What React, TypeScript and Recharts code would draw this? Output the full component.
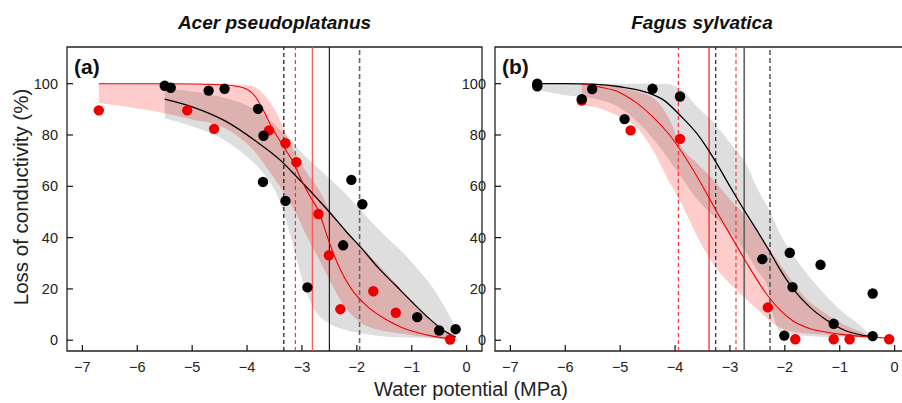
import React from 'react';
import { ComposedChart, Area, Line, Scatter, XAxis, YAxis, ReferenceLine, ReferenceArea } from 'recharts';

// ---------- Panel (a) Acer pseudoplatanus ----------
const aBlackPtX = [-5.50, -5.39, -4.70, -4.41, -3.80, -3.70, -3.71, -3.30, -2.90, -2.25, -2.10, -1.90, -0.90, -0.50, -0.20];
const aBlackPtY = [99.2, 98.4, 97.3, 98.0, 90.2, 79.7, 61.7, 54.3, 20.6, 37.0, 62.5, 53.0, 9.0, 3.8, 4.3];
const aRedPtX = [-6.70, -5.09, -4.60, -3.60, -3.30, -3.10, -2.70, -2.51, -2.30, -1.70, -1.29, -0.30];
const aRedPtY = [89.6, 89.6, 82.4, 81.8, 76.8, 69.4, 49.2, 33.1, 12.1, 19.1, 10.7, 0.3];

const aBlackLineX = [-5.5, -5.0, -4.4, -3.8, -3.4, -3.1, -2.7, -2.5, -2.2, -1.9, -1.6, -1.3, -1.0, -0.7, -0.45, -0.2];
const aBlackLineY = [94, 91, 85.5, 77, 70.3, 63.8, 54.7, 50, 42.5, 35.5, 28, 21.5, 15, 8.8, 4.3, 1.2];
const aRedLineX = [-6.7, -5.5, -5.0, -4.5, -4.2, -4.0, -3.85, -3.7, -3.55, -3.35, -3.15, -3.0, -2.85, -2.7, -2.5, -2.3, -2.1, -1.8, -1.5, -1.2, -0.9, -0.6, -0.3];
const aRedLineY = [100, 100, 99.9, 99.6, 99, 97.8, 95, 89.5, 83, 76, 69, 62, 56, 50.5, 38, 27.5, 20, 13, 8.5, 5.2, 3, 1.5, 0.5];

const aGrayX = [-5.5, -5.0, -4.5, -4.0, -3.7, -3.4, -3.2, -3.0, -2.8, -2.5, -2.2, -1.9, -1.5, -1.2, -0.9, -0.6, -0.4, -0.2];
const aGrayHi = [98, 97, 95, 91.5, 88, 82, 78, 73, 69, 63, 57, 50, 41, 35, 28, 20, 13, 5];
const aGrayLo = [86.5, 83.3, 79, 71.5, 65, 54, 40, 24, 13, 6.5, 4, 2.6, 1.5, 1.2, 1, 0.8, 0.7, 0.7];
const aPinkX = [-6.7, -6.2, -5.5, -5.0, -4.5, -4.2, -3.9, -3.7, -3.5, -3.3, -3.1, -2.9, -2.7, -2.5, -2.2, -1.9, -1.5, -1.2, -0.9, -0.6, -0.3];
const aPinkHi = [100, 100, 100, 100, 100, 99.7, 99, 96, 90, 81, 72, 65, 59, 51, 43, 36, 27, 20, 13, 6.5, 2.5];
const aPinkLo = [92.5, 91, 88.5, 86, 83.5, 80, 74.5, 69, 63, 56.5, 49, 40, 32, 23.5, 12.5, 6.5, 3.6, 2.6, 1.6, 1, 0.5];

const aVLineX = [-3.33, -3.12, -2.81, -2.50, -1.95];

// ---------- Panel (b) Fagus sylvatica ----------
const bBlackPtX = [-6.51, -6.51, -5.70, -5.51, -4.92, -4.41, -3.91, -2.41, -1.91, -1.35, -1.86, -1.11, -2.01, -0.40, -0.40];
const bBlackPtY = [100, 99, 94, 97.9, 86.2, 98, 95, 31.6, 34.1, 29.4, 20.7, 6.4, 1.8, 18.2, 1.6];
const bRedPtX = [-5.70, -4.81, -3.91, -2.31, -1.81, -1.11, -0.82, -0.10];
const bRedPtY = [93.4, 81.8, 78.5, 12.8, 0.4, 0.4, 0.4, 0.4];

const bBlackLineX = [-6.5, -6.0, -5.5, -5.0, -4.5, -4.2, -3.9, -3.6, -3.3, -3.0, -2.75, -2.5, -2.3, -2.1, -1.85, -1.55, -1.25, -0.9, -0.6, -0.4];
const bBlackLineY = [100, 100, 99.8, 98.8, 96.5, 93.5, 87.5, 80.5, 71, 60, 51, 42.5, 35.5, 28, 20, 13, 8, 3.8, 2, 1.3];
const bRedLineX = [-5.7, -5.4, -5.0, -4.7, -4.4, -4.1, -3.85, -3.55, -3.25, -2.95, -2.65, -2.35, -2.1, -1.85, -1.55, -1.25, -0.9, -0.45, -0.05];
const bRedLineY = [100, 98.8, 96.5, 92.5, 87, 80, 72.5, 62, 50.5, 39.5, 28.5, 18.5, 12, 7.5, 4.6, 3.2, 2.1, 1.3, 0.7];

const bGrayX = [-6.5, -6.0, -5.5, -5.0, -4.5, -4.2, -3.9, -3.6, -3.3, -3.0, -2.7, -2.5, -2.3, -2.2, -2.1, -1.9, -1.6, -1.3, -1.0, -0.7, -0.4];
const bGrayHi = [100, 100, 100, 100, 100, 100, 98, 91, 85, 77, 68.5, 59, 51.5, 47, 42, 35, 26, 18.5, 12, 7, 1.5];
const bGrayLo = [97.5, 95.5, 94.3, 90.5, 81, 73, 64, 55, 48.5, 42, 34, 27, 20, 9, 3.5, 2.3, 1.6, 1.3, 1.2, 1.1, 1];
const bPinkX = [-5.7, -5.4, -5.0, -4.7, -4.4, -4.1, -3.9, -3.6, -3.3, -3.0, -2.7, -2.5, -2.2, -1.9, -1.6, -1.3, -1.0, -0.7, -0.4, -0.05];
const bPinkHi = [100, 99.6, 98.5, 97, 94.5, 86, 76, 69, 62.5, 55, 48, 42, 33, 24, 16, 11, 7, 4, 1.5, 0.8];
const bPinkLo = [92, 90.5, 87, 83, 74, 61.5, 54, 40.5, 29.5, 22, 16, 12, 6.3, 3.5, 2.6, 2.1, 1.7, 1.3, 1, 0.7];

const bVLineX = [-3.94, -3.38, -3.26, -2.89, -2.74, -2.27];

const XTICKS = [-7, -6, -5, -4, -3, -2, -1, 0];
const YTICKS = [0, 20, 40, 60, 80, 100];
const XDOM: [number, number] = [-7.28, 0.28];
const YDOM: [number, number] = [-4.2, 114.3];

const FONT = '"Liberation Sans", Arial, Helvetica, sans-serif';
const RED = '#ee0000';

const pts = (xs: number[], ys: number[]) => xs.map((x, i) => ({ x, y: ys[i] }));
const band = (xs: number[], lo: number[], hi: number[]) => xs.map((x, i) => ({ x, r: [lo[i], hi[i]] }));

const fmt = (v: number) => (v < 0 ? '\u2212' + Math.abs(v) : String(v));

const XTick = (props: any) => {
  const { x, y, payload } = props;
  return (
    <g>
      <line x1={x} y1={y} x2={x} y2={y - 6} stroke="#111" strokeWidth={1.2} />
      <text x={x} y={y + 21} textAnchor="middle" fontSize={14.5} fontFamily={FONT} fill="#222">
        {fmt(payload.value)}
      </text>
    </g>
  );
};
const YTick = (props: any) => {
  const { x, y, payload } = props;
  return (
    <g>
      <line x1={x} y1={y} x2={x + 6} y2={y} stroke="#111" strokeWidth={1.2} />
      <text x={x - 9} y={y + 5} textAnchor="end" fontSize={14.5} fontFamily={FONT} fill="#222">
        {fmt(payload.value)}
      </text>
    </g>
  );
};

type VStyle = { stroke: string; dash?: string; w: number };

function Panel(props: {
  left: number;
  gray: any[];
  pink: any[];
  blackLine: any[];
  redLine: any[];
  blackPts: any[];
  redPts: any[];
  vx: number[];
  vs: VStyle[];
}) {
  const dot = (color: string) => (p: any) => <circle cx={p.cx} cy={p.cy} r={5.2} fill={color} />;
  return (
    <div style={{ position: 'absolute', left: props.left, top: 0 }}>
      <ComposedChart width={490} height={403} margin={{ top: 47, right: 8, bottom: 22, left: 7 }}>
        <XAxis
          type="number"
          dataKey="x"
          domain={XDOM}
          ticks={XTICKS}
          interval={0}
          tickSize={0}
          tickMargin={0}
          axisLine={false}
          tickLine={false}
          tick={XTick}
          height={30}
          allowDataOverflow
        />
        <YAxis
          type="number"
          domain={YDOM}
          ticks={YTICKS}
          interval={0}
          tickSize={0}
          tickMargin={0}
          axisLine={false}
          tickLine={false}
          tick={YTick}
          width={60}
          allowDataOverflow
        />
        <Area data={props.pink} dataKey="r" type="monotone" stroke="none" fill="#ff0000" fillOpacity={0.2} isAnimationActive={false} />
        <Area data={props.gray} dataKey="r" type="monotone" stroke="none" fill="#000000" fillOpacity={0.13} isAnimationActive={false} />
        {props.vx.map((x, i) => (
          <ReferenceLine
            key={i}
            x={x}
            stroke={props.vs[i].stroke}
            strokeWidth={props.vs[i].w}
            strokeDasharray={props.vs[i].dash}
          />
        ))}
        <Line data={props.blackLine} dataKey="y" type="monotone" stroke="#000" strokeWidth={1.3} dot={false} isAnimationActive={false} />
        <Line data={props.redLine} dataKey="y" type="monotone" stroke={RED} strokeWidth={1.1} dot={false} isAnimationActive={false} />
        <Scatter data={props.redPts} dataKey="y" shape={dot(RED)} isAnimationActive={false} />
        <Scatter data={props.blackPts} dataKey="y" shape={dot('#000')} isAnimationActive={false} />
        <ReferenceArea x1={XDOM[0]} x2={XDOM[1]} y1={YDOM[0]} y2={YDOM[1]} fill="none" stroke="#222" strokeWidth={1.3} ifOverflow="visible" />
      </ComposedChart>
    </div>
  );
}

const aStyles: VStyle[] = [
  { stroke: '#111', dash: '4 3', w: 1.2 },
  { stroke: '#ff2222', dash: '4 3', w: 1.1 },
  { stroke: '#ff5a5a', w: 1.3 },
  { stroke: '#3a1515', w: 1.2 },
  { stroke: '#666', dash: '5 3', w: 1.6 },
];
const bStyles: VStyle[] = [
  { stroke: '#ff3030', dash: '4 3', w: 1.2 },
  { stroke: '#ee1111', w: 1.1 },
  { stroke: '#333', dash: '4 3', w: 1.3 },
  { stroke: '#ee3333', dash: '4 3', w: 1.1 },
  { stroke: '#666', w: 1.7 },
  { stroke: '#555', dash: '5 3', w: 1.5 },
];

export default function App() {
  return (
    <div style={{ position: 'absolute', left: 0, top: 0, width: 902, height: 403, overflow: 'hidden', background: '#fff' }}>
      <Panel
        left={0}
        gray={band(aGrayX, aGrayLo, aGrayHi)}
        pink={band(aPinkX, aPinkLo, aPinkHi)}
        blackLine={pts(aBlackLineX, aBlackLineY)}
        redLine={pts(aRedLineX, aRedLineY)}
        blackPts={pts(aBlackPtX, aBlackPtY)}
        redPts={pts(aRedPtX, aRedPtY)}
        vx={aVLineX}
        vs={aStyles}
      />
      <Panel
        left={428}
        gray={band(bGrayX, bGrayLo, bGrayHi)}
        pink={band(bPinkX, bPinkLo, bPinkHi)}
        blackLine={pts(bBlackLineX, bBlackLineY)}
        redLine={pts(bRedLineX, bRedLineY)}
        blackPts={pts(bBlackPtX, bBlackPtY)}
        redPts={pts(bRedPtX, bRedPtY)}
        vx={bVLineX}
        vs={bStyles}
      />
      <svg width={902} height={403} style={{ position: 'absolute', left: 0, top: 0, pointerEvents: 'none' }}>
        <text x={274.5} y={29} textAnchor="middle" fontSize={19} fontWeight="bold" fontStyle="italic" fontFamily={FONT} fill="#111">
          Acer pseudoplatanus
        </text>
        <text x={702} y={29} textAnchor="middle" fontSize={19} fontWeight="bold" fontStyle="italic" fontFamily={FONT} fill="#111">
          Fagus sylvatica
        </text>
        <text x={74} y={74} fontSize={21} fontWeight="bold" fontFamily={FONT} fill="#111">(a)</text>
        <text x={502} y={74} fontSize={21} fontWeight="bold" fontFamily={FONT} fill="#111">(b)</text>
        <text
          transform="translate(28,197) rotate(-90)"
          textAnchor="middle"
          fontSize={20.5}
          fontFamily={FONT}
          fill="#222"
        >
          Loss of conductivity (%)
        </text>
        <text x={471} y={396} textAnchor="middle" fontSize={20} fontFamily={FONT} fill="#222">
          Water potential (MPa)
        </text>
      </svg>
    </div>
  );
}
